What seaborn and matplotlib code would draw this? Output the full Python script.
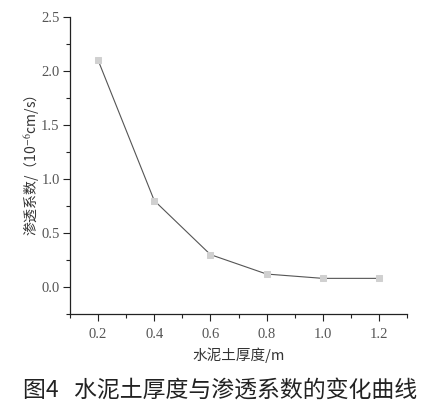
import matplotlib
matplotlib.use("Agg")
import matplotlib.pyplot as plt
import seaborn as sns
import pandas as pd
from matplotlib.ticker import MultipleLocator

thickness = [0.2, 0.4, 0.6, 0.8, 1.0, 1.2]
permeability = [2.1, 0.8, 0.3, 0.12, 0.08, 0.08]
x_ticks = [0.2, 0.4, 0.6, 0.8, 1.0, 1.2]
y_ticks = [0.0, 0.5, 1.0, 1.5, 2.0, 2.5]

sns.set_theme(style="ticks")
plt.rcParams['font.family'] = ['Noto Sans CJK SC', 'DejaVu Sans']
plt.rcParams['mathtext.fontset'] = 'stix'

df = pd.DataFrame({"x": thickness, "y": permeability})

fig = plt.figure(figsize=(4.36, 4.11), dpi=100)
ax = fig.add_axes([0.1606, 0.236, 0.7729, 0.7226])
sns.lineplot(data=df, x="x", y="y", ax=ax, color="#555555", linewidth=0.8,
             marker="s", markersize=5, markerfacecolor="#d0d0d0",
             markeredgecolor="#d0d0d0")

ax.set_xlim(0.1, 1.3)
ax.set_ylim(-0.25, 2.5)
ax.set_xticks(x_ticks)
ax.set_yticks(y_ticks)
ax.xaxis.set_minor_locator(MultipleLocator(0.1))
ax.yaxis.set_minor_locator(MultipleLocator(0.25))
ax.set_xticklabels([f"{v:.1f}" for v in x_ticks], family="Liberation Serif", fontsize=10.5, color="#555555")
ax.set_yticklabels([f"{v:.1f}" for v in y_ticks], family="Liberation Serif", fontsize=10.5, color="#555555")
ax.tick_params(axis="x", which="major", direction="out", length=5, width=0.8, color="#222222", pad=5)
ax.tick_params(axis="y", which="major", direction="out", length=5, width=0.8, color="#222222", pad=2.5)
ax.tick_params(axis="both", which="minor", direction="out", length=3, width=0.8, color="#222222")
for s in ["top", "right"]:
    ax.spines[s].set_visible(False)
for s in ["left", "bottom"]:
    ax.spines[s].set_linewidth(0.9)
    ax.spines[s].set_color("#222222")

ax.set_xlabel("水泥土厚度/m", fontsize=10.5, color="#333333", labelpad=5)
ax.set_ylabel("渗透系数/（10$^{-6}$cm/s）", fontsize=10, color="#333333")
ax.yaxis.set_label_coords(-0.085, 0.5)

fig.text(0.505, 0.05, "图4   水泥土厚度与渗透系数的变化曲线", ha="center", va="center",
         fontsize=16.5, color="#222222")

fig.savefig("out.png", dpi=100, facecolor="white")
